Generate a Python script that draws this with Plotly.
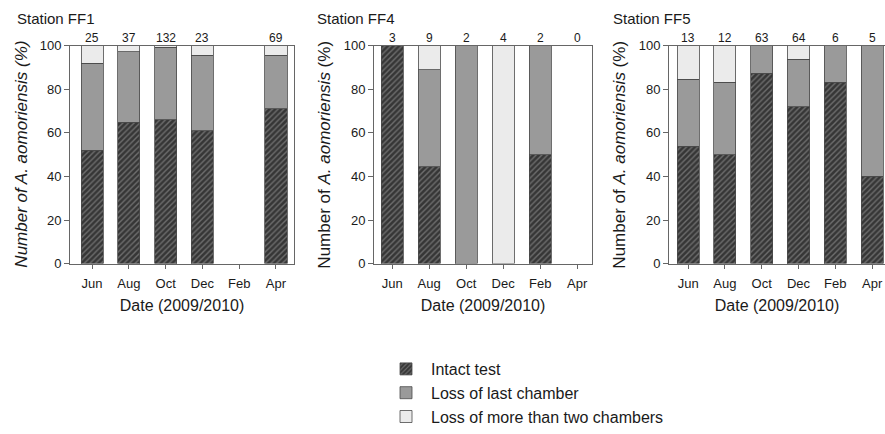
import plotly.graph_objects as go

W, H = 885, 434

months = ["Jun", "Aug", "Oct", "Dec", "Feb", "Apr"]
stations = ["Station FF1", "Station FF4", "Station FF5"]
series_names = ["Intact test", "Loss of last chamber", "Loss of more than two chambers"]

# percentages per station (None = no share / no sample)
ff1_intact = [52.0, 64.9, 65.9, 60.9, None, 71.0]
ff1_last = [40.0, 32.4, 33.3, 34.8, None, 24.6]
ff1_more = [8.0, 2.7, 0.8, 4.3, None, 4.3]
ff1_n = [25, 37, 132, 23, None, 69]

ff4_intact = [100.0, 44.4, None, None, 50.0, None]
ff4_last = [None, 44.5, 100.0, None, 50.0, None]
ff4_more = [None, 11.1, None, 100.0, None, None]
ff4_n = [3, 9, 2, 4, 2, 0]

ff5_intact = [53.8, 50.0, 87.3, 71.9, 83.3, 40.0]
ff5_last = [30.8, 33.3, 12.7, 21.9, 16.7, 60.0]
ff5_more = [15.4, 16.7, None, 6.2, None, None]
ff5_n = [13, 12, 63, 64, 6, 5]

data = [
    (ff1_intact, ff1_last, ff1_more, ff1_n),
    (ff4_intact, ff4_last, ff4_more, ff4_n),
    (ff5_intact, ff5_last, ff5_more, ff5_n),
]

# layout geometry (pixels)
panel_x = [(70, 294), (374, 592), (669, 885)]
xranges = [[-0.6, 5.49], [-0.49, 5.4], [-0.52, 5.35]]
y_top, y_bot = 48, 277
ytitle_x = [22, 325, 620]
title_x = [15, 315, 611]

FONT = "Liberation Sans, Arial, sans-serif"
fills = ["#3b3b3b", "#9a9a9a", "#ebebeb"]
AX = "#666666"

fig = go.Figure()
layout = dict(
    width=W, height=H, autosize=False, margin=dict(l=0, r=0, t=0, b=0, pad=0),
    plot_bgcolor="white", paper_bgcolor="white",
    barmode="stack", bargap=0.4,
    font=dict(family=FONT, size=13, color="#1a1a1a"),
    showlegend=True,
    legend=dict(x=381 / W, y=1 - 370 / H, xanchor="left", yanchor="top",
                font=dict(size=16, color="#1a1a1a"), itemwidth=40,
                tracegroupgap=0, traceorder="normal", bgcolor="rgba(0,0,0,0)"),
)
annotations = []

ytitles = [
    "<i>Number of A. aomoriensis (%)</i>",
    "Number of <i>A. aomoriensis</i> (%)",
    "Number of <i>A. aomoriensis</i> (%)",
]

for p in range(3):
    xa = "x" if p == 0 else f"x{p+1}"
    ya = "y" if p == 0 else f"y{p+1}"
    xkey = "xaxis" if p == 0 else f"xaxis{p+1}"
    ykey = "yaxis" if p == 0 else f"yaxis{p+1}"
    intact, last, more, n = data[p]
    for s, vals in enumerate([intact, last, more]):
        marker = dict(color=fills[s], line=dict(color="#4a4a4a", width=0.8))
        if s == 0:
            marker["pattern"] = dict(shape="/", fgcolor="#6e6e6e", bgcolor="#363636",
                                     size=4, solidity=0.35, fillmode="replace")
        fig.add_trace(go.Bar(
            x=list(range(len(months))), y=vals, name=series_names[s],
            marker=marker, xaxis=xa, yaxis=ya, width=0.6,
            showlegend=(p == 0), legendgroup=series_names[s],
        ))
    x0, x1 = panel_x[p]
    layout[xkey] = dict(
        domain=[x0 / W, min(x1 / W, 1.0)], range=xranges[p], anchor=ya,
        tickvals=list(range(len(months))), ticktext=months, automargin=False,
        ticks="outside", ticklen=4, tickcolor=AX, ticklabelstandoff=4, showline=True,
        linecolor=AX, linewidth=1, mirror=True, showgrid=False, zeroline=False,
        tickfont=dict(size=13),
        title=dict(text="Date (2009/2010)", font=dict(size=16), standoff=9),
    )
    layout[ykey] = dict(
        domain=[1 - y_bot / H, 1 - y_top / H], range=[0, 100], anchor=xa, automargin=False,
        tickvals=[0, 20, 40, 60, 80, 100], ticks="outside", ticklen=5, tickcolor=AX,
        showline=True, linecolor=AX, linewidth=1, mirror=True, showgrid=False,
        zeroline=False, tickfont=dict(size=13),
    )
    annotations.append(dict(
        text=ytitles[p], xref="paper", yref="paper", x=ytitle_x[p] / W,
        y=1 - (y_top + y_bot) / 2 / H, textangle=-90, showarrow=False,
        xanchor="center", yanchor="middle", font=dict(size=17),
    ))
    annotations.append(dict(
        text=stations[p], xref="paper", yref="paper", x=title_x[p] / W, y=1 - 8 / H,
        xanchor="left", yanchor="top", showarrow=False, font=dict(size=15),
    ))
    for i, c in enumerate(n):
        if c is None:
            continue
        annotations.append(dict(
            text=str(c), xref=xa, yref=ya, x=i, y=100, yanchor="bottom",
            showarrow=False, yshift=-1, font=dict(size=12),
        ))

layout["annotations"] = annotations
fig.update_layout(**layout)
fig.write_html("out.html", config={"responsive": False},
               default_width=f"{W}px", default_height=f"{H}px")
